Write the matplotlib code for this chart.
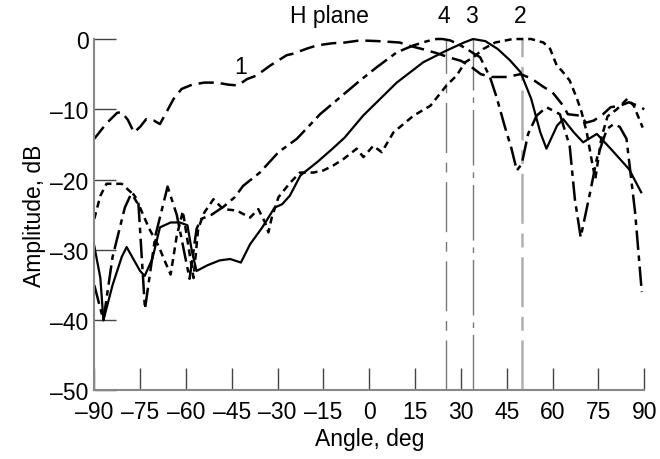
import matplotlib.pyplot as plt

plt.rcParams['font.family'] = ['Liberation Sans', 'DejaVu Sans']
plt.rcParams['lines.scale_dashes'] = False

# curve 1: long dashes, broad beam
c1x = [-90, -86, -82.5, -81, -79, -77, -75, -73, -70.5, -68.5, -66.5, -64, -61.4, -58, -54, -50, -46, -43, -40,
       -36.9, -32.5, -27, -25, -20, -17, -12, -8, -3, 3, 10, 13.5, 18, 22, 26, 30, 33.5, 36.5, 40, 45, 49.5,
       53, 57, 60, 63.5, 65, 69, 71, 73.5, 76.5, 79, 82, 85, 88, 90]
c1y = [-14.2, -12, -10.5, -10.4, -11.5, -13.3, -12.5, -11.4, -11.6, -12.1, -10.5, -8.5, -7.1, -6.5, -6.2, -6.2,
       -6.5, -6.6, -5.7, -5.2, -3.8, -2.3, -2.1, -1.3, -0.9, -0.6, -0.5, -0.2, -0.3, -0.5, -1, -1.5, -2, -2.6,
       -3.1, -4, -5, -5.4, -5.4, -5, -5.6, -6.8, -7.6, -9.5, -10.7, -10.9, -11.9, -11.6, -10.7, -9.7, -9.5,
       -9, -9.5, -10]

# curve 2: short dashes, flat top near 50 deg
c2x = [-90, -88, -86, -81, -78, -75, -72, -69, -67, -65, -63, -61, -59, -57.5, -56, -54, -51, -47.8, -43.4,
       -39, -36.3, -34.1, -33, -31.9, -29.7, -26, -22.7, -18.3, -15, -11.8, -8.5, -4.1, -1.9, 1.3, 4.1, 7.9,
       14.5, 20, 25.3, 28.6, 31.4, 34.1, 37.4, 41.2, 47, 53, 57, 59.2, 61.4, 63, 65.6, 68, 69.5, 71.2, 72.9,
       74, 76, 78, 81, 84.5, 86.6, 88, 89.5]
c2y = [-25.6, -22.3, -20.6, -20.6, -21.8, -24, -27, -29.4, -31.5, -33.5, -28, -24.5, -30, -34, -27, -24.7,
       -22.8, -24.2, -24.4, -25.4, -24.2, -26.1, -27.5, -25.4, -22.5, -20.5, -19, -19, -18.7, -18, -17.1,
       -15.6, -16.8, -15.2, -16.1, -13.3, -10.9, -9.5, -6.6, -5.2, -3.3, -2.6, -1.4, -0.5, 0, 0, -0.5, -1.4,
       -3.8, -4.5, -5.9, -8.5, -10.4, -13.3, -17.5, -19.9, -14, -11, -10, -8.5, -9.5, -11, -12.6]

# curve 3: solid, peak near 34 deg
c3x = [-90, -88, -87, -84, -81, -79.4, -75, -73.5, -71, -68.5, -65, -62, -59.5, -58, -56.5, -53, -49, -45.5,
       -42, -39, -35, -31, -28.5, -26, -22.5, -17, -12, -8, -2, 9, 17.7, 25, 31, 34, 38, 42, 46, 49.5, 53,
       56, 58, 61.5, 63.5, 67, 70, 74.5, 79, 85, 89]
c3y = [-29.4, -34, -40, -35, -31, -29.6, -33, -33.7, -31.3, -26.8, -26.1, -26.1, -26.5, -30.3, -33, -32.2,
       -31.5, -31.3, -31.8, -29.2, -26.8, -24, -23.5, -22.3, -19.4, -17.5, -15.6, -14, -10.9, -6.2, -3.3,
       -1.7, -0.5, 0, -0.3, -1.4, -3, -4.7, -8.5, -13.3, -15.6, -12.3, -11.4, -13.3, -14.7, -13.5, -15.6,
       -18.5, -21.8]

# curve 4: long-short dashes, peak near 24 deg
c4x = [-90, -87, -84, -80, -77.7, -75.6, -73.4, -70, -66, -63, -58.8, -56.5, -55, -51.6, -47.8, -44, -41.3,
       -35.8, -29.7, -23.7, -16.1, -3, 2.5, 9, 14.5, 19, 22, 24, 26.5, 29, 31.9, 34, 36.3, 39.5, 41.7, 44.4,
       46.5, 48.3, 49.9, 52, 54.8, 58, 62.4, 65.6, 67.3, 69.2, 72.3, 74.5, 77.8, 80, 82, 84.2, 87, 89.2]
c4y = [-35, -40, -31, -24, -21.8, -23, -38.4, -28, -21, -25, -34.1, -27, -25.6, -25, -23.9, -22.5, -20.9,
       -19, -16.1, -14.2, -10.7, -5.9, -4, -1.9, -0.9, -0.3, 0, 0, -0.2, -0.7, -1.4, -2, -2.6, -5.4, -8.3,
       -12.5, -15.5, -18.7, -17.8, -13.5, -10.9, -9.7, -10.7, -15.2, -22.8, -28.2, -21.8, -17, -12.8, -12.1,
       -12.5, -14.2, -24.6, -36]

# beam direction markers
mark_x = [25, 34, 50]
mark_lbl = ['4', '3', '2']

xticks = list(range(-90, 91, 15))
yticks = list(range(-50, 1, 10))

fig = plt.figure(figsize=(6.6, 4.6), dpi=100, facecolor='white')
ax = fig.add_axes([0.1428, 0.149, 0.8333, 0.764])

ax.axvline(mark_x[0], color='#777777', lw=1.0, dashes=(36, 7, 7, 7), zorder=1)
ax.axvline(mark_x[1], color='#777777', lw=1.0, dashes=(40, 5, 4, 5), zorder=1)
ax.axvline(mark_x[2], color='#b0b0b0', lw=1.8, dashes=(36, 7, 10, 7), zorder=1)

ax.plot(c1x, c1y, color='black', lw=1.8, dashes=(11, 5), clip_on=False)
ax.plot(c2x, c2y, color='black', lw=1.8, dashes=(5, 3.5), clip_on=False)
ax.plot(c3x, c3y, color='black', lw=1.6, clip_on=False)
ax.plot(c4x, c4y, color='black', lw=1.8, dashes=(14, 4, 4, 4), clip_on=False)

ax.set_xlim(-90, 90)
ax.set_ylim(-50, 0)
ax.set_xticks(xticks)
ax.set_yticks(yticks)
ax.set_xticklabels([str(t).replace('-', '\u2013') for t in xticks])
ax.set_yticklabels([str(t).replace('-', '\u2013') for t in yticks])
ax.tick_params(axis='both', direction='in', length=16, width=1.0, colors='#444444',
               labelcolor='black', labelsize=16.5)
ax.tick_params(axis='x', pad=7)
ax.tick_params(axis='y', pad=4)
for s in ['top', 'right']:
    ax.spines[s].set_visible(False)
for s in ['left', 'bottom']:
    ax.spines[s].set_color('#888888')
    ax.spines[s].set_linewidth(1.5)

ax.set_xlabel('Angle, deg', fontsize=16.5, labelpad=3)
ax.set_ylabel('Amplitude, dB', fontsize=16.5, labelpad=3)

ax.text(-13, 3.3, 'H plane', fontsize=16.5, ha='center', va='center')
ax.text(-42, -3.9, '1', fontsize=16.5, ha='center', va='center')
for xm, lb in zip(mark_x, mark_lbl):
    ax.text(xm - 0.5, 3.3, lb, fontsize=16.5, ha='center', va='center')

fig.savefig('out.png', dpi=100, facecolor='white')
